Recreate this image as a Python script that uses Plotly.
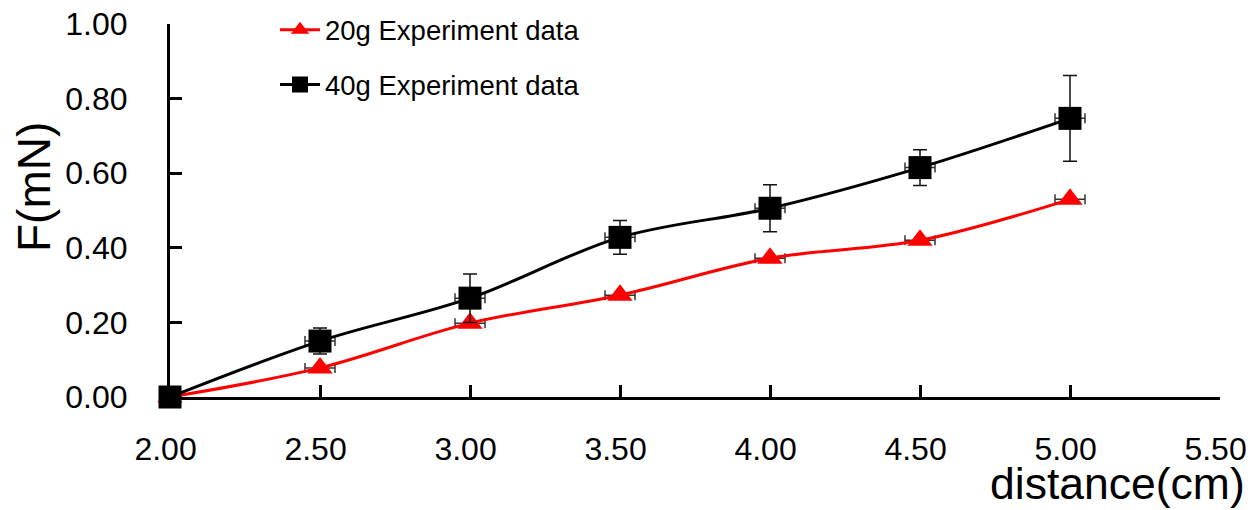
import plotly.graph_objects as go

distance = [2.0, 2.5, 3.0, 3.5, 4.0, 4.5, 5.0]
f_20g = [0.0, 0.078, 0.198, 0.273, 0.372, 0.420, 0.530]
f_40g = [0.0, 0.150, 0.265, 0.428, 0.506, 0.615, 0.747]
err_40g = [0.0, 0.035, 0.065, 0.045, 0.063, 0.048, 0.115]
x_err = [0.0, 0.05, 0.05, 0.05, 0.05, 0.05, 0.05]
x_ticks = [2.0, 2.5, 3.0, 3.5, 4.0, 4.5, 5.0, 5.5]
y_ticks = [0.0, 0.2, 0.4, 0.6, 0.8, 1.0]

font = "Liberation Sans, Arial, sans-serif"

fig = go.Figure()
fig.add_trace(go.Scatter(
    x=distance, y=f_20g, mode="lines+markers", name="20g Experiment data",
    legendgroup="a",
    line=dict(color="#ff0000", width=3, shape="spline", smoothing=1.0),
    marker=dict(symbol="triangle-up", size=22, color="#ff0000"),
    error_x=dict(type="data", array=x_err, color="#333333", thickness=1.5, width=5),
    cliponaxis=False,
))
fig.add_trace(go.Scatter(
    x=distance, y=f_40g, mode="lines+markers", name="40g Experiment data",
    legendgroup="b",
    line=dict(color="#000000", width=3, shape="spline", smoothing=1.0),
    marker=dict(symbol="square", size=23, color="#000000"),
    error_x=dict(type="data", array=x_err, color="#333333", thickness=1.5, width=5),
    error_y=dict(type="data", array=err_40g, color="#111111", thickness=1.5, width=7),
    cliponaxis=False,
))

fig.update_layout(
    width=1252, height=510,
    margin=dict(l=170, r=32, t=24, b=113, autoexpand=False),
    paper_bgcolor="white", plot_bgcolor="white",
    showlegend=True,
    legend=dict(x=0.1, y=1.05, xanchor="left", yanchor="top",
                font=dict(family=font, size=27.5, color="black"),
                bgcolor="rgba(0,0,0,0)", tracegroupgap=16,
                traceorder="grouped", itemwidth=40),
    xaxis=dict(range=[2.0, 5.5], tickvals=x_ticks,
               ticktext=[f"{v:.2f}\u00a0" for v in x_ticks],
               showline=True, linecolor="black", linewidth=3,
               ticks="inside", ticklen=12, tickwidth=3, tickcolor="black",
               showgrid=False, zeroline=False, automargin=False,
               ticklabeloverflow="allow",
               tickfont=dict(family=font, size=32, color="black"),
               ticklabelstandoff=22),
    yaxis=dict(range=[0, 1.0], tickvals=y_ticks,
               ticktext=[f"{v:.2f}" for v in y_ticks],
               showline=True, linecolor="black", linewidth=3,
               ticks="inside", ticklen=12, tickwidth=3, tickcolor="black",
               showgrid=False, zeroline=False, automargin=False,
               ticklabeloverflow="allow",
               tickfont=dict(family=font, size=32, color="black"),
               ticklabelstandoff=33),
    annotations=[
        dict(text="distance(cm)", xref="paper", yref="paper", x=1.0257, y=-0.233,
             xanchor="right", yanchor="middle", showarrow=False,
             font=dict(family=font, size=44.5, color="black")),
        dict(text="F(mN)", xref="paper", yref="paper", x=-0.1295, y=0.563,
             xanchor="center", yanchor="middle", showarrow=False, textangle=-90,
             font=dict(family=font, size=46, color="black")),
    ],
)

fig.write_html("out.html", config={"displayModeBar": False},
               post_script="document.body.style.margin='0';document.body.style.overflow='hidden';")
